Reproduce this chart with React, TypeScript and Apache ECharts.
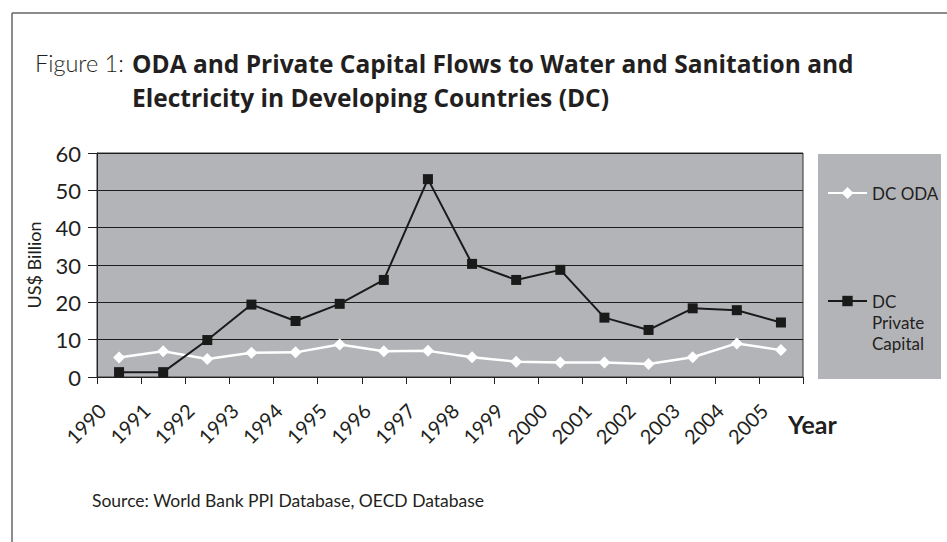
import React, { useEffect, useRef } from "react";
import * as echarts from "echarts";

// Years on the category axis
const years = [
  "1990", "1991", "1992", "1993", "1994", "1995", "1996", "1997",
  "1998", "1999", "2000", "2001", "2002", "2003", "2004", "2005",
];

// US$ billion
const odaValues = [5.2, 6.9, 4.8, 6.5, 6.6, 8.7, 6.9, 7.0, 5.3, 4.1, 3.9, 3.9, 3.5, 5.3, 9.0, 7.2];
const privateValues = [1.3, 1.3, 9.9, 19.4, 15.0, 19.6, 26.0, 53.0, 30.3, 26.0, 28.7, 15.9, 12.6, 18.4, 17.9, 14.6];

const seriesNames = ["DC ODA", "DC Private Capital"];
const yMin = 0;
const yMax = 60;
const yStep = 10;

const INK = "#231f20";
const PANEL = "#b3b4b8";
const SANS = "Lato, 'Open Sans', sans-serif";
const HEAD = "'Open Sans', Lato, sans-serif";

export default function App() {
  const ref = useRef<HTMLDivElement>(null);

  useEffect(() => {
    if (!ref.current) return;
    const chart = echarts.init(ref.current, undefined, { renderer: "svg" });

    chart.setOption({
      animation: false,
      backgroundColor: "#ffffff",
      title: [
        {
          text: "Figure 1:",
          left: 35,
          top: 46,
          padding: 0,
          textStyle: { fontFamily: SANS, fontWeight: 300, fontSize: 23.5, color: INK, lineHeight: 34 },
        },
        {
          text: "ODA and Private Capital Flows to Water and Sanitation and\nElectricity in Developing Countries (DC)",
          left: 132,
          top: 46,
          padding: 0,
          textStyle: { fontFamily: HEAD, fontWeight: "bold", fontSize: 24.5, color: INK, lineHeight: 34 },
        },
        {
          text: "Source: World Bank PPI Database, OECD Database",
          left: 92,
          top: 489,
          padding: 0,
          textStyle: { fontFamily: SANS, fontWeight: "normal", fontSize: 17.5, lineHeight: 22, color: INK },
        },
      ],
      legend: [
        {
          data: [seriesNames[0]],
          left: 827,
          top: 182.5,
          padding: 0,
          itemWidth: 39,
          itemHeight: 15,
          selectedMode: false,
          textStyle: { fontFamily: SANS, fontSize: 17, lineHeight: 21, color: INK },
        },
        {
          data: [seriesNames[1]],
          left: 827,
          top: 248.5,
          padding: 0,
          itemWidth: 39,
          itemHeight: 13,
          selectedMode: false,
          // two blank lines above keep the first line level with the icon
          formatter: () => " \n \nDC\nPrivate\nCapital",
          textStyle: { fontFamily: SANS, fontSize: 17, lineHeight: 21, color: INK },
        },
      ],
      graphic: [
        {
          type: "line",
          z: 0,
          shape: { x1: 12, y1: 13, x2: 947, y2: 13 },
          style: { stroke: "#666666", lineWidth: 1.5 },
        },
        {
          type: "line",
          z: 0,
          shape: { x1: 12, y1: 13, x2: 12, y2: 542 },
          style: { stroke: "#666666", lineWidth: 1.5 },
        },
        {
          type: "rect",
          z: 0,
          shape: { x: 818, y: 154, width: 123, height: 225 },
          style: { fill: PANEL },
        },
      ],
      grid: {
        left: 97,
        right: 144,
        top: 153,
        bottom: 165,
        show: true,
        backgroundColor: PANEL,
        borderColor: "#333333",
        borderWidth: 1,
      },
      xAxis: {
        type: "category",
        data: years,
        boundaryGap: true,
        name: "Year",
        nameLocation: "end",
        nameGap: -15,
        nameTextStyle: {
          fontFamily: SANS,
          fontWeight: "bold",
          fontSize: 25,
          color: INK,
          align: "left",
          verticalAlign: "top",
          padding: [34, 0, 0, 0],
        },
        axisLine: { show: true, lineStyle: { color: "#222222", width: 1 } },
        axisTick: { show: true, length: 7, interval: 0, alignWithLabel: false, lineStyle: { color: "#222222" } },
        axisLabel: {
          interval: 0,
          rotate: 45,
          margin: 13,
          padding: [0, 24, 0, 0],
          fontFamily: SANS,
          fontWeight: "normal",
          fontSize: 20,
          color: INK,
        },
        splitLine: { show: false },
      },
      yAxis: {
        type: "value",
        min: yMin,
        max: yMax,
        interval: yStep,
        name: "US$ Billion",
        nameLocation: "middle",
        nameGap: 54,
        nameTextStyle: { fontFamily: SANS, fontSize: 18, color: INK },
        axisLine: { show: true, lineStyle: { color: "#222222", width: 1 } },
        axisTick: { show: true, length: 9, lineStyle: { color: "#222222" } },
        axisLabel: { margin: 16, fontFamily: SANS, fontWeight: "normal", fontSize: 22, color: INK },
        splitLine: { show: true, lineStyle: { color: "#1e1e1e", width: 1 } },
      },
      series: [
        {
          name: seriesNames[0],
          type: "line",
          data: odaValues,
          symbol: "diamond",
          symbolSize: 12,
          lineStyle: { color: "#ffffff", width: 2.5 },
          itemStyle: { color: "#ffffff", borderWidth: 0 },
          z: 2,
        },
        {
          name: seriesNames[1],
          type: "line",
          data: privateValues,
          symbol: "rect",
          symbolSize: 10,
          lineStyle: { color: "#1a1a1a", width: 2 },
          itemStyle: { color: "#1a1a1a", borderWidth: 0 },
          z: 3,
        },
      ],
    });

    return () => chart.dispose();
  }, []);

  return (
    <div
      ref={ref}
      style={{ position: "fixed", left: 0, top: 0, width: 947, height: 542 }}
    />
  );
}
